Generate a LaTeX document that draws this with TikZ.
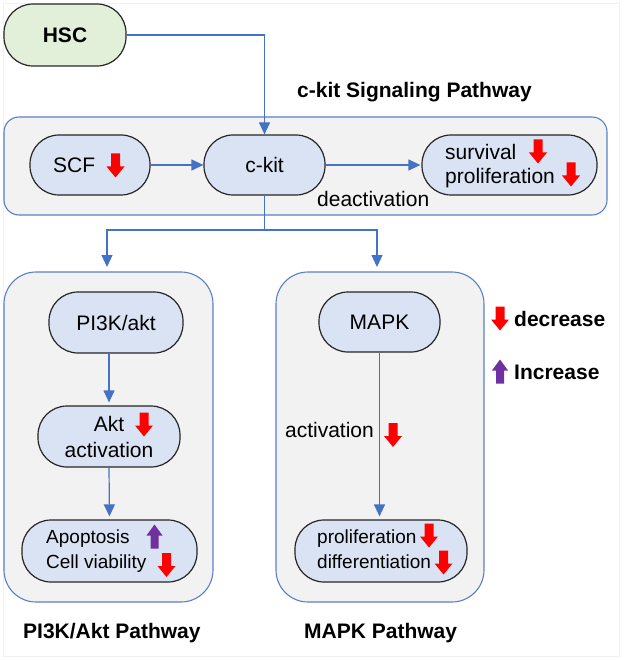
\documentclass[tikz,border=0pt]{standalone}
\usepackage{fontspec}
\setmainfont{Liberation Sans}
\usetikzlibrary{arrows.meta}
\definecolor{nodeblue}{HTML}{DAE3F3}
\definecolor{boxgray}{HTML}{F2F2F2}
\definecolor{linkblue}{HTML}{4472C4}
\definecolor{panelblue}{HTML}{5A7FC6}
\definecolor{hscgreen}{HTML}{E2F0D9}
\definecolor{arrred}{HTML}{FF0000}
\definecolor{arrpurple}{HTML}{7030A0}
\begin{document}
\begin{tikzpicture}[x=1pt,y=-1pt,
  every node/.style={font=\fontsize{21}{25}\selectfont, inner sep=0pt},
  pill/.style={draw=black!85, line width=1.2pt, fill=nodeblue, rounded corners=29pt, minimum height=60pt},
  panel/.style={draw=panelblue, line width=1.1pt, fill=boxgray},
  conn/.style={draw=linkblue, line width=1.2pt, -{Triangle[length=12pt,width=11pt]}},
  link/.style={draw=linkblue, line width=1.2pt},
  heading/.style={font=\fontsize{21}{25}\selectfont\bfseries},
  smalltext/.style={font=\fontsize{19}{25}\selectfont},
  downarr/.pic={\fill[arrred] (-4.5,-12) -- (4.5,-12) -- (4.5,1) -- (9,1) -- (0,12) -- (-9,1) -- (-4.5,1) -- cycle;},
  uparr/.pic={\fill[arrpurple] (-4,12) -- (4,12) -- (4,-1) -- (8,-1) -- (0,-12) -- (-8,-1) -- (-4,-1) -- cycle;}
]
\useasboundingbox (0,0) rectangle (624,660);
\draw[gray!12, line width=0.8pt] (3,3) rectangle (619,656);

% panels
\node[panel, rounded corners=15pt, minimum width=603pt, minimum height=98pt] (ckitbox) at (305.5,166) {};
\node[panel, rounded corners=32pt, minimum width=209pt, minimum height=330pt] (pibox) at (108.5,437) {};
\node[panel, rounded corners=32pt, minimum width=208pt, minimum height=330pt] (mapkbox) at (380,437) {};

% titles
\node[heading, anchor=base west] (t1) at (297,98) {c-kit Signaling Pathway};
\node[heading, anchor=base west] (t2) at (23,638) {PI3K/Akt Pathway};
\node[heading, anchor=base west] (t3) at (304,638) {MAPK Pathway};

% top
\node[pill, fill=hscgreen, minimum width=122pt, minimum height=62pt, font=\fontsize{21}{25}\selectfont\bfseries] (hsc) at (65,35) {HSC};

% c-kit row
\node[pill, minimum width=120pt] (scf) at (90,165) {};
\node[anchor=base west] (scftext) at (53,173) {SCF};
\pic at (115.5,165.5) {downarr};
\node[pill, minimum width=121pt] (ckit) at (264.5,165) {c-kit};
\node[pill, minimum width=175pt] (surv) at (509.5,165) {};
\node[anchor=base west] (survtext) at (445,160) {survival};
\node[anchor=base west] (proltext) at (445,184) {proliferation};
\pic at (538,151.5) {downarr};
\pic at (571,174.5) {downarr};
\node[anchor=base west] (deact) at (317,207) {deactivation};

% PI3K column
\node[pill, minimum width=134pt, minimum height=61pt] (pi3k) at (116,322.5) {PI3K/akt};
\node[pill, minimum width=142pt, minimum height=61pt, align=center] (akt) at (109,436.5) {Akt\\[1pt]activation};
\pic at (144,424.5) {downarr};
\node[pill, minimum width=175pt, minimum height=62pt] (apop) at (109.5,551) {};
\node[smalltext, anchor=base west] (apoptext) at (46,543) {Apoptosis};
\node[smalltext, anchor=base west] (viabtext) at (46,568) {Cell viability};
\pic at (154.5,536.5) {uparr};
\pic at (166.5,565) {downarr};

% MAPK column
\node[pill, minimum width=121pt] (mapk) at (379.5,322) {MAPK};
\node[anchor=base east] (acttext) at (374,437) {activation};
\pic at (393,435) {downarr};
\node[pill, minimum width=172pt, minimum height=62pt] (prolif) at (381,551) {};
\node[smalltext, anchor=base west] (prolif2) at (317,543) {proliferation};
\node[smalltext, anchor=base west] (difftext) at (317,568) {differentiation};
\pic at (429,535.5) {downarr};
\pic at (443.5,562.5) {downarr};

% legend
\pic at (500,318.5) {downarr};
\node[heading, anchor=base west] (dec) at (514,326) {decrease};
\pic at (500,371.5) {uparr};
\node[heading, anchor=base west] (inc) at (514,379) {Increase};

% connectors
\draw[conn] (hsc.east) -| (ckit.north);
\draw[conn] (scf.east) -- (ckit.west);
\draw[conn, shorten >=1pt] (ckit.east) -- (surv.west);
\coordinate (split) at (264.5,230);
\coordinate (piin) at (107,267);
\coordinate (mapin) at (377,267);
\draw[link] (ckit.south) -- (split);
\draw[conn] (split) -| (piin);
\draw[conn] (split) -| (mapin);
\draw[conn, shorten >=3pt] (akt.north |- pi3k.south) -- (akt.north);
\draw[conn, shorten >=3pt] (akt.south) -- (apop.north);
\draw[conn, shorten >=3pt] (mapk.south) -- (mapk.south |- prolif.north);
\end{tikzpicture}
\end{document}
